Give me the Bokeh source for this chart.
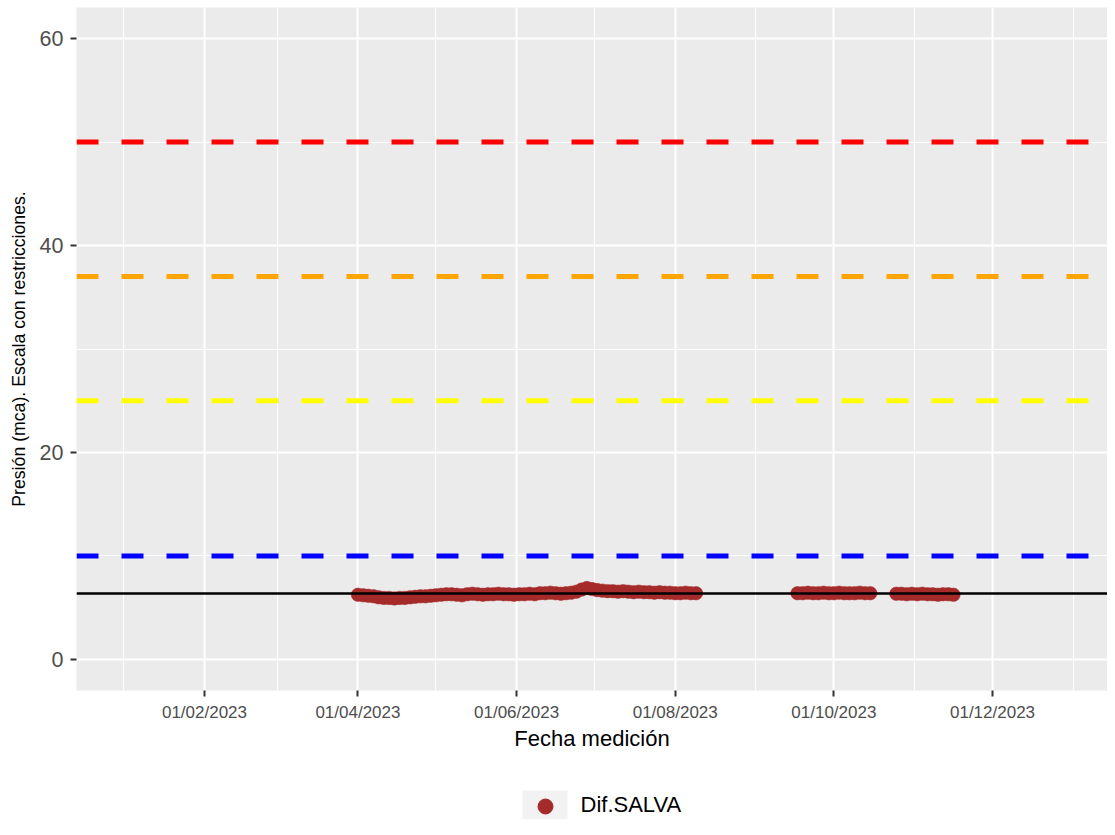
import pandas as pd
from bokeh.plotting import figure
from bokeh.models import ColumnDataSource, Range1d, FixedTicker, DatetimeTickFormatter, Span
from bokeh.layouts import column
from bokeh.embed import file_html
from bokeh.resources import INLINE
from bokeh.core.properties import value

# ---------------- data ----------------
SERIES_NAME = "Dif.SALVA"
STEP = "2D"
SEG1_START = "2023-04-01"
SEG1_VALUES = [6.25, 6.2, 6.15, 6.1,
               6.0, 5.95, 5.95, 5.9, 5.95, 5.95, 6.0, 6.05, 6.1, 6.1, 6.15,
               6.2, 6.25, 6.3, 6.3, 6.25, 6.2, 6.3, 6.35, 6.3, 6.25, 6.3, 6.3, 6.35, 6.3, 6.3, 6.25,
               6.3, 6.3, 6.35, 6.3, 6.4, 6.4, 6.45, 6.4, 6.35, 6.4, 6.45, 6.55, 6.75, 6.9, 6.8,
               6.7, 6.65, 6.6, 6.6, 6.55, 6.6, 6.55, 6.5, 6.55, 6.5, 6.5, 6.45, 6.5, 6.45, 6.45,
               6.4, 6.4, 6.45, 6.4, 6.4]
SEG2_START = "2023-09-17"
SEG2_VALUES = [6.4, 6.4, 6.45, 6.4, 6.4, 6.45, 6.4, 6.4, 6.45, 6.4, 6.4, 6.4, 6.45, 6.4, 6.4]
SEG3_START = "2023-10-25"
SEG3_VALUES = [6.35, 6.35, 6.3, 6.35, 6.3, 6.35, 6.3, 6.3, 6.25, 6.3, 6.3, 6.25]

MEAN_LEVEL = 6.38
THRESHOLDS = [10, 25, 37, 50]
THRESHOLD_COLORS = ["#0000FF", "#FFFF00", "#FFA500", "#FF0000"]

X_START = "2022-12-13 19:00"
X_END = "2024-01-14 05:00"
Y_START, Y_END = -3.0, 63.0
X_MAJOR = ["2023-02-01", "2023-04-01", "2023-06-01", "2023-08-01", "2023-10-01", "2023-12-01"]
X_MINOR = ["2023-01-01", "2023-03-01", "2023-05-01", "2023-07-01", "2023-09-01", "2023-11-01", "2024-01-01"]
Y_MAJOR = [0, 20, 40, 60]
Y_MINOR = [10, 30, 50]

X_TITLE = "Fecha medición"
Y_TITLE = "Presión (mca). Escala con restricciones."

POINT_COLOR = "#A52A2A"
FONT = "Liberation Sans"


def ms(s):
    return pd.Timestamp(s).value // 10**6


dates = []
vals = []
for start, v in [(SEG1_START, SEG1_VALUES), (SEG2_START, SEG2_VALUES), (SEG3_START, SEG3_VALUES)]:
    dates.extend(list(pd.date_range(start, periods=len(v), freq=STEP)))
    vals.extend(v)

src = ColumnDataSource(dict(date=dates, value=vals))

# ---------------- main figure ----------------
p = figure(width=1107, height=770, output_backend="svg", toolbar_location=None,
           x_axis_type="datetime",
           x_range=Range1d(pd.Timestamp(X_START), pd.Timestamp(X_END)),
           y_range=Range1d(Y_START, Y_END),
           min_border_left=76, min_border_right=0, min_border_top=7, min_border_bottom=80)
p.background_fill_color = "#EBEBEB"
p.border_fill_color = "white"
p.outline_line_color = None

p.xaxis.ticker = FixedTicker(ticks=[ms(d) for d in X_MAJOR], minor_ticks=[ms(d) for d in X_MINOR])
fmt = "%d/%m/%Y"
p.xaxis.formatter = DatetimeTickFormatter(milliseconds=fmt, seconds=fmt, minsec=fmt, minutes=fmt,
                                          hourmin=fmt, hours=fmt, days=fmt, months=fmt, years=fmt)
p.yaxis.ticker = FixedTicker(ticks=Y_MAJOR, minor_ticks=Y_MINOR)

for ax in (p.xaxis, p.yaxis):
    ax.axis_line_color = None
    ax.major_tick_in = 0
    ax.major_tick_out = 6
    ax.major_tick_line_color = "#333333"
    ax.major_tick_line_width = 2
    ax.minor_tick_in = 0
    ax.minor_tick_out = 0
    ax.major_label_text_color = "#4D4D4D"
    ax.major_label_text_font = FONT
    ax.axis_label_text_font = FONT
    ax.axis_label_text_font_style = "normal"
    ax.axis_label_text_color = "black"

p.xaxis.major_label_text_font_size = "17px"
p.xaxis.major_label_standoff = 6
p.xaxis.axis_label = X_TITLE
p.xaxis.axis_label_text_font_size = "22px"
p.xaxis.axis_label_standoff = 1

p.yaxis.major_label_text_font_size = "21.5px"
p.yaxis.major_label_standoff = 7
p.yaxis.axis_label = Y_TITLE
p.yaxis.axis_label_text_font_size = "17.7px"
p.yaxis.axis_label_standoff = 8

for g in (p.xgrid, p.ygrid):
    g.grid_line_color = "white"
    g.grid_line_width = 2
    g.minor_grid_line_color = "white"
    g.minor_grid_line_width = 1
p.xgrid.ticker = p.xaxis.ticker
p.ygrid.ticker = p.yaxis.ticker

for lvl, col in zip(THRESHOLDS, THRESHOLD_COLORS):
    p.add_layout(Span(location=lvl, dimension="width", line_color=col, line_width=5,
                      line_dash="22 23", level="underlay"))

p.scatter(x="date", y="value", source=src, size=13.5, fill_color=POINT_COLOR,
          line_color=POINT_COLOR, line_width=0.5)

p.add_layout(Span(location=MEAN_LEVEL, dimension="width", line_color="black", line_width=2.5))

# ---------------- legend strip (coordinates in page pixels) ----------------
lg = figure(width=1107, height=49, output_backend="svg", toolbar_location=None,
            x_range=Range1d(76, 1107), y_range=Range1d(819, 770),
            min_border_left=76, min_border_right=0, min_border_top=0, min_border_bottom=0)
lg.axis.visible = False
lg.grid.visible = False
lg.outline_line_color = None
lg.background_fill_color = "white"
lg.border_fill_color = "white"
lg.quad(left=[522], right=[567], top=[790], bottom=[836], fill_color="#F2F2F2", line_color=None)
lg.scatter(x=[545], y=[806], size=15, fill_color=POINT_COLOR, line_color=POINT_COLOR)
lg.text(x=[580], y=[804], text=[SERIES_NAME], text_font=value(FONT), text_font_size="22px",
        text_baseline="middle", text_align="left", text_color="black")

layout = column(p, lg, spacing=0)
open("out.html", "w").write(file_html(layout, INLINE))
